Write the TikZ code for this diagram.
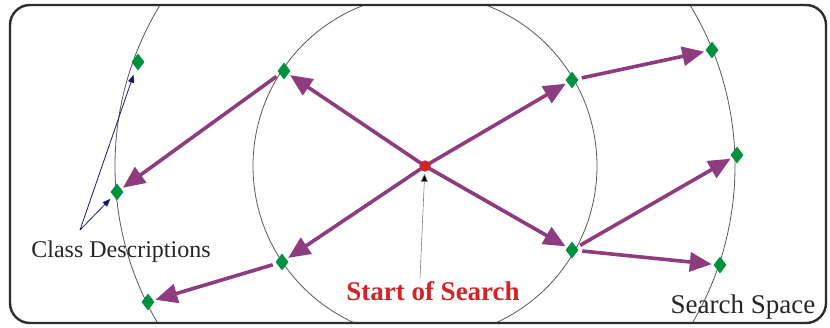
\documentclass[tikz,border=0pt]{standalone}
\usepackage{fontspec}
\setmainfont{Liberation Serif}
\usetikzlibrary{arrows.meta,shapes.geometric}
\definecolor{pathpurple}{RGB}{142,60,127}
\definecolor{nodegreen}{RGB}{0,145,62}
\definecolor{startred}{RGB}{210,35,40}
\definecolor{navyline}{RGB}{25,25,105}
\definecolor{framegray}{RGB}{45,45,45}
\begin{document}
\begin{tikzpicture}[x=1pt,y=-1pt,
  cls/.style={diamond, fill=nodegreen, draw=none, minimum width=13pt, minimum height=17pt, inner sep=0pt},
  startdot/.style={circle, fill=startred, draw=none, minimum size=11pt, inner sep=0pt},
  move/.style={draw=pathpurple, line width=3.6pt, -{Triangle[length=22pt,width=19pt]}},
  pointer/.style={draw=navyline, line width=0.8pt, -{Triangle[length=8pt,width=6pt]}},
  startptr/.style={draw=gray, line width=0.6pt, -{Triangle[length=8pt,width=7pt,fill=black]}},
  ring/.style={draw=black!65, line width=0.8pt},
  lbl/.style={inner sep=0pt, anchor=base}
]
\useasboundingbox (0,0) rectangle (830,327);
\fill[white] (0,0) rectangle (830,327);
\coordinate (o) at (425,166);
\begin{scope}
  \clip[rounded corners=20pt] (10,5) rectangle (826,323);
  \draw[ring] (o) circle[radius=172pt];
  \draw[ring] (o) circle[radius=310pt];
\end{scope}
\draw[draw=framegray, line width=2.4pt, rounded corners=20pt] (10,5) rectangle (826,323);

% nodes
\node[startdot] (s) at (o) {};
\node[cls] (d1) at (138,62) {};
\node[cls] (d2) at (117,192) {};
\node[cls] (d3) at (148,302) {};
\node[cls] (d4) at (284,71) {};
\node[cls] (d5) at (282,262) {};
\node[cls] (d6) at (572,80) {};
\node[cls] (d7) at (572,250) {};
\node[cls] (d8) at (712,50) {};
\node[cls] (d9) at (737,155) {};
\node[cls] (d10) at (720,265) {};

% search moves
\draw[move, shorten >=2pt] (s.center) -- (d4);
\draw[move, shorten >=2pt] (s.center) -- (d6);
\draw[move, shorten >=2pt] (s.center) -- (d5);
\draw[move, shorten >=2pt] (s.center) -- (d7);
\draw[move, shorten <=4pt, shorten >=2pt] (d4) -- (d2);
\draw[move, shorten <=4pt, shorten >=2pt] (d5) -- (d3);
\draw[move, shorten <=4pt, shorten >=2pt] (d6) -- (d8);
\draw[move, shorten <=4pt, shorten >=2pt] (d7) -- (d9);
\draw[move, shorten <=4pt, shorten >=2pt] (d7) -- (d10);
\node[startdot] at (o) {};

% labels
\node[lbl, font=\fontsize{24}{24}\selectfont, text=black!85] (cd) at (121,257) {Class Descriptions};
\node[lbl, font=\fontsize{27}{27}\selectfont\bfseries, text=startred] (sos) at (433,300) {Start of Search};
\node[lbl, font=\fontsize{27}{27}\selectfont, text=black!85] (ss) at (743,313) {Search Space};

\coordinate (cdtip) at (80,230);
\coordinate (sostip) at (420,278);
\draw[pointer, shorten >=7pt] (cdtip) -- (d1);
\draw[pointer, shorten >=4pt] (cdtip) -- (d2);
\draw[startptr, shorten >=2pt] (sostip) -- (s);
\end{tikzpicture}
\end{document}
